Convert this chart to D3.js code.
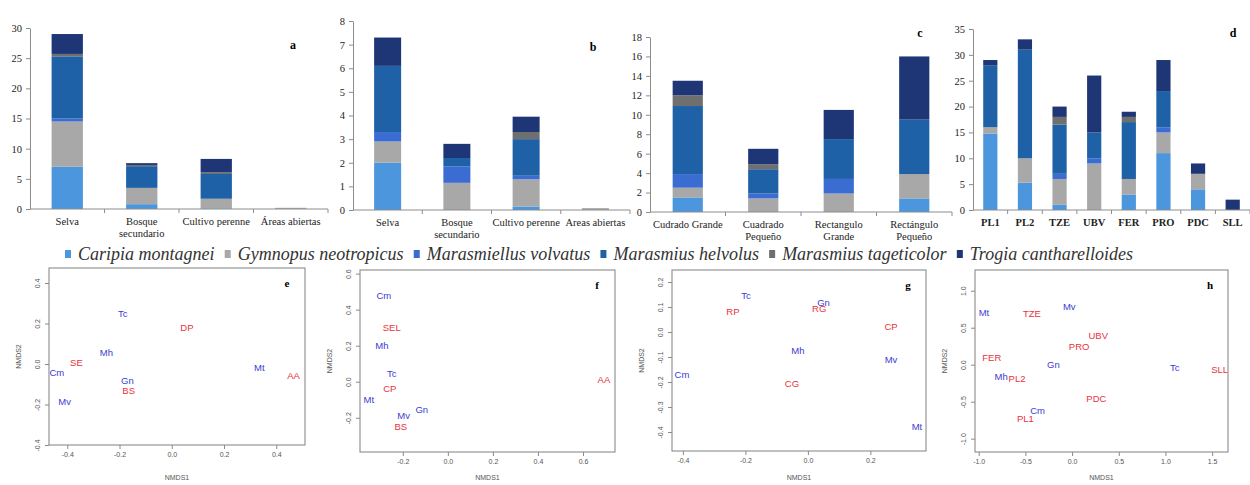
<!DOCTYPE html>
<html>
<head>
<meta charset="utf-8">
<script src="https://cdn.jsdelivr.net/npm/d3@7"></script>
<style>
  body { margin: 0; background: #fff; }
  svg { display: block; }
</style>
</head>
<body>
<div id="chart"></div>
<script>

// Species (stack order, bottom to top)
const species = ["Caripia montagnei", "Gymnopus neotropicus", "Marasmiellus volvatus",
  "Marasmius helvolus", "Marasmius tageticolor", "Trogia cantharelloides"];
const speciesColors = ["#4b96dc", "#a8a8a8", "#3a6cd2", "#1f61a6", "#6f6f6f", "#1e3676"];

// a) land use
const catsA = ["Selva", "Bosque\nsecundario", "Cultivo perenne", "Áreas abiertas"];
const abundA = [
  [7, 0.8, 0.1, 0],
  [7.5, 2.7, 1.6, 0.2],
  [0.5, 0, 0, 0],
  [10.3, 3.6, 4.1, 0],
  [0.4, 0.2, 0.3, 0],
  [3.3, 0.3, 2.2, 0]
];

// b) land use (second measure)
const catsB = ["Selva", "Bosque\nsecundario", "Cultivo perenne", "Areas abiertas"];
const abundB = [
  [2.0, 0, 0.15, 0],
  [0.9, 1.15, 1.15, 0.08],
  [0.4, 0.7, 0.15, 0],
  [2.8, 0.35, 1.55, 0],
  [0, 0, 0.3, 0],
  [1.2, 0.6, 0.65, 0]
];

// c) plot shape
const catsC = ["Cudrado Grande", "Cuadrado\nPequeño", "Rectangulo\nGrande", "Rectángulo\nPequeño"];
const abundC = [
  [1.5, 0, 0, 1.4],
  [1.0, 1.4, 1.9, 2.5],
  [1.4, 0.5, 1.5, 0],
  [7.0, 2.5, 4.1, 5.6],
  [1.1, 0.5, 0, 0],
  [1.5, 1.6, 3.0, 6.5]
];

// d) sites
const catsD = ["PL1", "PL2", "TZE", "UBV", "FER", "PRO", "PDC", "SLL"];
const abundD = [
  [14.8, 5.3, 1, 0, 3, 11, 4, 0],
  [1.2, 4.7, 5, 9, 3, 4, 3, 0],
  [0, 0, 1, 1, 0, 1, 0, 0],
  [12, 21, 9.5, 5, 11, 7, 0, 0],
  [0, 0, 1.5, 0, 1, 0, 0, 0],
  [1, 2, 2, 11, 1, 6, 2, 2]
];

// NMDS scores: [label, NMDS1, NMDS2, kind]  (sp = species, st = site)
const ordE = [
  ["Tc", -0.188, 0.247, "sp"], ["DP", 0.058, 0.178, "st"], ["Mh", -0.25, 0.054, "sp"],
  ["SE", -0.365, 0.005, "st"], ["Cm", -0.44, -0.044, "sp"], ["Gn", -0.17, -0.084, "sp"],
  ["BS", -0.165, -0.133, "st"], ["Mv", -0.41, -0.188, "sp"], ["Mt", 0.335, -0.02, "sp"],
  ["AA", 0.466, -0.059, "st"]
];
const ordF = [
  ["Cm", -0.284, 0.478, "sp"], ["SEL", -0.249, 0.30, "st"], ["Mh", -0.293, 0.2, "sp"],
  ["Tc", -0.249, 0.044, "sp"], ["CP", -0.258, -0.039, "st"], ["Mt", -0.351, -0.1, "sp"],
  ["Gn", -0.116, -0.156, "sp"], ["Mv", -0.196, -0.189, "sp"], ["BS", -0.209, -0.25, "st"],
  ["AA", 0.693, 0.011, "st"]
];
const ordG = [
  ["Tc", -0.198, 0.144, "sp"], ["RP", -0.24, 0.08, "st"], ["Gn", 0.05, 0.118, "sp"],
  ["RG", 0.036, 0.094, "st"], ["CP", 0.266, 0.02, "st"], ["Mh", -0.032, -0.076, "sp"],
  ["Mv", 0.266, -0.112, "sp"], ["Cm", -0.403, -0.172, "sp"], ["CG", -0.051, -0.208, "st"],
  ["Mt", 0.349, -0.38, "sp"]
];
const ordH = [
  ["Mt", -0.944, 0.70, "sp"], ["TZE", -0.43, 0.69, "st"], ["Mv", -0.03, 0.78, "sp"],
  ["UBV", 0.28, 0.39, "st"], ["PRO", 0.075, 0.24, "st"], ["FER", -0.86, 0.09, "st"],
  ["Gn", -0.2, 0.0, "sp"], ["Tc", 1.1, -0.04, "sp"], ["SLL", 1.58, -0.07, "st"],
  ["Mh", -0.76, -0.16, "sp"], ["PL2", -0.59, -0.19, "st"], ["PDC", 0.26, -0.46, "st"],
  ["Cm", -0.37, -0.625, "sp"], ["PL1", -0.5, -0.735, "st"]
];

const width = 1250;
const height = 485;
const serif = "'Liberation Serif', 'Times New Roman', serif";
const sans = "'Liberation Sans', Arial, sans-serif";
const axisGrey = "#8c8c8c";

const svg = d3.select("#chart")
  .append("svg")
    .attr("width", width)
    .attr("height", height);

// ---------- stacked bars ----------
const drawBars = (cfg) => {
  const keys = d3.range(species.length);
  const table = cfg.cats.map((c, j) => {
    const row = { cat: c };
    cfg.rows.forEach((r, i) => { row[i] = r[j]; });
    return row;
  });
  const series = d3.stack().keys(keys)(table);

  const xScale = d3.scaleBand()
    .domain(cfg.cats)
    .range([cfg.x0, cfg.x1])
    .padding(0);
  const yScale = d3.scaleLinear()
    .domain([0, cfg.yMax])
    .range([cfg.yBase, cfg.yTop]);
  const barW = xScale.bandwidth() * cfg.barFrac;

  const g = svg.append("g").attr("class", "bars");

  g.selectAll(".layer")
    .data(series)
    .join("g")
      .attr("class", "layer")
      .attr("fill", d => speciesColors[d.key])
    .selectAll("rect")
    .data(d => d.filter(s => s[1] - s[0] > 0))
    .join("rect")
      .attr("x", d => xScale(d.data.cat) + (xScale.bandwidth() - barW) / 2)
      .attr("y", d => yScale(d[1]))
      .attr("width", barW)
      .attr("height", d => yScale(d[0]) - yScale(d[1]));

  // y axis
  const leftAxis = d3.axisLeft(yScale)
    .tickValues(d3.range(0, cfg.yMax + 0.001, cfg.yStep))
    .tickSize(4)
    .tickSizeOuter(0)
    .tickPadding(4);
  const ya = g.append("g")
    .attr("transform", `translate(${cfg.x0}, 0)`)
    .call(leftAxis);
  ya.select(".domain").attr("stroke", axisGrey);
  ya.selectAll(".tick line").attr("stroke", axisGrey);
  ya.selectAll(".tick text")
    .attr("font-family", serif)
    .attr("font-size", 10.5)
    .attr("fill", "#222");

  // x axis: baseline + ticks between categories
  g.append("line")
    .attr("x1", cfg.x0).attr("x2", cfg.x1)
    .attr("y1", cfg.yBase).attr("y2", cfg.yBase)
    .attr("stroke", axisGrey);
  g.selectAll(".xtick")
    .data(cfg.cats.slice(1).concat([null]))
    .join("line")
      .attr("class", "xtick")
      .attr("x1", d => d === null ? cfg.x1 : xScale(d))
      .attr("x2", d => d === null ? cfg.x1 : xScale(d))
      .attr("y1", cfg.yBase)
      .attr("y2", cfg.yBase + 4)
      .attr("stroke", axisGrey);

  const labels = g.selectAll(".xlab")
    .data(cfg.cats)
    .join("text")
      .attr("class", "xlab")
      .attr("text-anchor", "middle")
      .attr("font-family", serif)
      .attr("font-size", 10.5)
      .attr("font-weight", cfg.bold ? "bold" : "normal")
      .attr("fill", "#222")
      .attr("y", cfg.yBase + 16);
  labels.selectAll("tspan")
    .data(d => d.split("\n").map(t => ({ t, x: xScale(d) + xScale.bandwidth() / 2 })))
    .join("tspan")
      .attr("x", d => d.x)
      .attr("dy", (d, i) => i === 0 ? 0 : 12)
      .text(d => d.t);

  g.append("text")
    .attr("x", cfg.lx).attr("y", cfg.ly)
    .attr("text-anchor", "middle")
    .attr("font-family", serif)
    .attr("font-weight", "bold")
    .attr("font-size", 12)
    .text(cfg.letter);
};

drawBars({ cats: catsA, rows: abundA, yMax: 30, yStep: 5, x0: 30, x1: 328, yTop: 28, yBase: 209, barFrac: 0.42, letter: "a", lx: 293, ly: 49 });
drawBars({ cats: catsB, rows: abundB, yMax: 8, yStep: 1, x0: 353, x1: 630, yTop: 21, yBase: 210, barFrac: 0.39, letter: "b", lx: 593, ly: 51 });
drawBars({ cats: catsC, rows: abundC, yMax: 18, yStep: 2, x0: 650, x1: 952, yTop: 37, yBase: 212, barFrac: 0.40, letter: "c", lx: 920, ly: 37 });
drawBars({ cats: catsD, rows: abundD, yMax: 35, yStep: 5, x0: 973, x1: 1250, yTop: 29, yBase: 210, barFrac: 0.41, letter: "d", lx: 1233, ly: 37, bold: true });

// ---------- legend ----------
const legend = svg.append("g").attr("class", "legend");
const legendY = 260;
const items = legend.selectAll(".item")
  .data(species)
  .join("g")
    .attr("class", "item");
items.append("text")
  .attr("y", legendY)
  .attr("font-family", serif)
  .attr("font-style", "italic")
  .attr("font-size", 18)
  .attr("fill", "#333")
  .text(d => d);
const widths = [];
items.select("text").each(function () { widths.push(this.getComputedTextLength()); });
const legStart = 65, legEnd = 1133, sqGap = 13;
const gap = (legEnd - legStart - d3.sum(widths) - sqGap * species.length) / (species.length - 1);
let lx = legStart;
items.each(function (d, i) {
  const it = d3.select(this);
  it.insert("rect", "text")
    .attr("x", lx).attr("y", legendY - 10)
    .attr("width", 6).attr("height", 8)
    .attr("fill", speciesColors[i]);
  it.select("text").attr("x", lx + sqGap);
  lx += sqGap + widths[i] + gap;
});

// ---------- NMDS panels ----------
const drawOrd = (cfg) => {
  const xScale = d3.scaleLinear().domain(cfg.xDom).range([cfg.x0, cfg.x1]);
  const yScale = d3.scaleLinear().domain(cfg.yDom).range([cfg.yBot, cfg.yTop]);
  const g = svg.append("g").attr("class", "ord");

  g.append("rect")
    .attr("x", cfg.x0).attr("y", cfg.yTop)
    .attr("width", cfg.x1 - cfg.x0).attr("height", cfg.yBot - cfg.yTop)
    .attr("fill", "none")
    .attr("stroke", "#808080");

  const fmt = v => v.toFixed(1);
  const xa = g.append("g")
    .attr("transform", `translate(0, ${cfg.yBot})`)
    .call(d3.axisBottom(xScale).tickValues(cfg.xTicks).tickSize(4).tickSizeOuter(0).tickPadding(3).tickFormat(fmt));
  const ya = g.append("g")
    .attr("transform", `translate(${cfg.x0}, 0)`)
    .call(d3.axisLeft(yScale).tickValues(cfg.yTicks).tickSize(4).tickSizeOuter(0).tickFormat(fmt));
  ya.selectAll(".tick text")
    .attr("x", 0).attr("y", -9).attr("dy", 0)
    .attr("text-anchor", "middle")
    .attr("transform", "rotate(-90)");
  [xa, ya].forEach(a => {
    a.select(".domain").remove();
    a.selectAll(".tick line").attr("stroke", "#8a8a8a");
    a.selectAll(".tick text")
      .attr("font-family", sans)
      .attr("font-size", 7)
      .attr("fill", "#555");
  });

  g.append("text")
    .attr("x", (cfg.x0 + cfg.x1) / 2).attr("y", 480)
    .attr("text-anchor", "middle")
    .attr("font-family", sans).attr("font-size", 7).attr("fill", "#555")
    .text("NMDS1");
  g.append("text")
    .attr("transform", `translate(${cfg.x0 - 28}, ${(cfg.yTop + cfg.yBot) / 2}) rotate(-90)`)
    .attr("text-anchor", "middle")
    .attr("font-family", sans).attr("font-size", 7).attr("fill", "#555")
    .text("NMDS2");

  g.selectAll(".pt")
    .data(cfg.pts)
    .join("text")
      .attr("class", "pt")
      .attr("x", d => xScale(d[1]))
      .attr("y", d => yScale(d[2]))
      .attr("dy", "0.35em")
      .attr("text-anchor", "middle")
      .attr("font-family", sans)
      .attr("font-size", 9.5)
      .attr("fill", d => d[3] === "sp" ? "#3b3bd2" : "#e8323c")
      .text(d => d[0]);

  g.append("text")
    .attr("x", cfg.x1 - 18).attr("y", cfg.yTop + 19)
    .attr("text-anchor", "middle")
    .attr("font-family", serif)
    .attr("font-weight", "bold")
    .attr("font-size", 11)
    .text(cfg.letter);
};

drawOrd({ pts: ordE, xDom: [-0.47, 0.51], yDom: [-0.40, 0.474], x0: 49, x1: 305, yTop: 268, yBot: 445,
  xTicks: [-0.4, -0.2, 0, 0.2, 0.4], yTicks: [-0.4, -0.2, 0, 0.2, 0.4], letter: "e" });
drawOrd({ pts: ordF, xDom: [-0.39, 0.742], yDom: [-0.39, 0.62], x0: 360, x1: 615, yTop: 270, yBot: 452,
  xTicks: [-0.2, 0, 0.2, 0.4, 0.6], yTicks: [-0.2, 0, 0.2, 0.4, 0.6], letter: "f" });
drawOrd({ pts: ordG, xDom: [-0.435, 0.378], yDom: [-0.476, 0.248], x0: 672, x1: 926, yTop: 270, yBot: 451,
  xTicks: [-0.4, -0.2, 0, 0.2], yTicks: [-0.4, -0.3, -0.2, -0.1, 0, 0.1, 0.2], letter: "g" });
drawOrd({ pts: ordH, xDom: [-1.04, 1.67], yDom: [-1.18, 1.28], x0: 975, x1: 1228, yTop: 270, yBot: 452,
  xTicks: [-1, -0.5, 0, 0.5, 1, 1.5], yTicks: [-1, -0.5, 0, 0.5, 1], letter: "h" });

</script>
</body>
</html>
